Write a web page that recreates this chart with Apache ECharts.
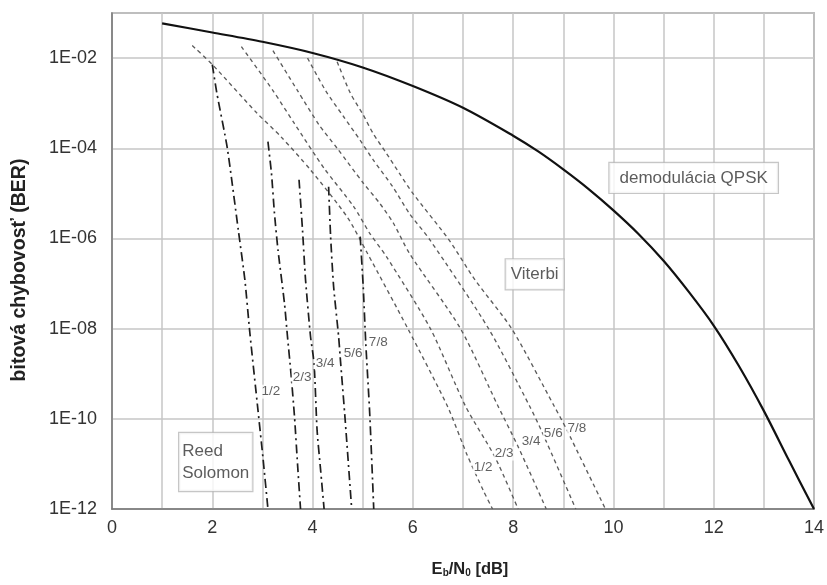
<!DOCTYPE html>
<html>
<head>
<meta charset="utf-8">
<script src="https://cdn.jsdelivr.net/npm/echarts@6/dist/echarts.min.js"></script>
<style>
  html, body { margin: 0; padding: 0; background: #fff; }
  #chart { width: 827px; height: 585px; }
</style>
</head>
<body>
<div id="chart"></div>
<script>
// Eb/N0 [dB] values and bit error rates for each curve

// uncoded QPSK demodulation
const qpskX   = [1, 2, 3, 4, 5, 6, 7, 8, 8.5, 9, 9.5, 10, 10.5, 11, 11.5, 12, 12.5, 13, 13.5, 14];
const qpskBer = [5.9e-2, 3.7e-2, 2.3e-2, 1.3e-2, 6.2e-3, 2.4e-3, 7.9e-4, 1.9e-4, 8.5e-5, 3.4e-5, 1.26e-5, 4.2e-6, 1.26e-6, 3.2e-7, 6.6e-8, 1.17e-8, 1.5e-9, 1.5e-10, 1.2e-11, 1e-12];

// Viterbi (convolutional) decoding, code rates 1/2 ... 7/8
const vit12X   = [1.6, 2.0, 2.88, 3.37, 3.96, 4.69, 5.08, 5.9, 6.69, 7.08, 7.41, 7.59];
const vit12Ber = [1.9e-2, 7.2e-3, 6.2e-4, 1.8e-4, 3.3e-5, 3.0e-6, 5e-7, 1e-8, 1.9e-10, 1.6e-11, 2.5e-12, 1e-12];
const vit23X   = [2.58, 3.21, 3.64, 4.23, 4.82, 5.14, 5.47, 6.35, 7.05, 7.64, 8.10];
const vit23Ber = [1.8e-2, 1.9e-3, 3.5e-4, 3.6e-5, 5.1e-6, 1.3e-6, 4e-7, 1e-8, 1.9e-10, 1.4e-11, 1e-12];
const vit34X   = [3.21, 3.70, 4.13, 4.49, 5.01, 5.34, 5.61, 5.93, 6.95, 7.70, 8.10, 8.66];
const vit34Ber = [1.46e-2, 1.9e-3, 3.3e-4, 1e-4, 1.7e-5, 6e-6, 2.2e-6, 4.7e-7, 1e-8, 1.9e-10, 2.4e-11, 1e-12];
const vit56X   = [3.90, 4.26, 4.62, 4.95, 5.21, 5.60, 5.93, 6.34, 7.51, 8.33, 8.56, 9.25];
const vit56Ber = [1e-2, 1.9e-3, 5e-4, 1.5e-4, 5.5e-5, 1.4e-5, 3.6e-6, 9.3e-7, 1e-8, 1.9e-10, 5.6e-11, 1e-12];
const vit78X   = [4.49, 4.75, 5.01, 5.21, 5.47, 5.73, 6.0, 6.72, 7.24, 7.97, 8.82, 9.05, 9.84];
const vit78Ber = [8.3e-3, 1.7e-3, 5.5e-4, 2.1e-4, 7.8e-5, 2.8e-5, 1e-5, 9.3e-7, 1.2e-7, 1e-8, 1.9e-10, 6.3e-11, 1e-12];

// concatenated Reed-Solomon + Viterbi decoding
const rs12X   = [2.0, 2.09, 2.30, 2.52, 2.65, 2.75, 2.91, 3.01, 3.11];
const rs12Ber = [7.2e-3, 1.7e-3, 1e-4, 1.5e-6, 1.2e-7, 7.9e-9, 1.6e-10, 1.4e-11, 1e-12];
const rs23X   = [3.11, 3.18, 3.24, 3.31, 3.44, 3.50, 3.57, 3.64, 3.70, 3.76];
const rs23Ber = [1.4e-4, 2.8e-5, 3.6e-6, 5.6e-7, 3.6e-8, 6.6e-9, 1e-9, 1.1e-10, 1e-11, 1e-12];
const rs34X   = [3.73, 3.80, 3.86, 3.96, 4.03, 4.09, 4.16, 4.23];
const rs34Ber = [2e-5, 1.5e-6, 1.2e-7, 6.6e-9, 1.7e-9, 5.6e-11, 7.4e-12, 1e-12];
const rs56X   = [4.32, 4.36, 4.42, 4.52, 4.55, 4.65, 4.78];
const rs56Ber = [1.4e-5, 1.1e-6, 8.5e-8, 6.6e-9, 2.4e-9, 9.5e-11, 1e-12];
const rs78X   = [4.95, 5.01, 5.06, 5.14, 5.22];
const rs78Ber = [1.1e-6, 8.5e-8, 5e-9, 1.3e-10, 1e-12];

// code-rate captions next to the curves
const rateNames  = ['1/2', '2/3', '3/4', '5/6', '7/8'];
const rsLabelX   = [3.17, 3.79, 4.25, 4.81, 5.31];
const rsLabelBer = [4.0e-10, 8.5e-10, 1.7e-9, 2.9e-9, 5.1e-9];
const vitLabelX   = [7.40, 7.82, 8.36, 8.80, 9.27];
const vitLabelBer = [8.5e-12, 1.7e-11, 3.1e-11, 4.9e-11, 6.3e-11];

// boxed captions
const noteText = ['demodulácia QPSK', 'Viterbi', 'Reed\nSolomon'];
const noteX    = [11.6, 8.43, 1.34];
const noteBer  = [2.2e-5, 1.6e-7, 1.1e-11];

const pairs = (xs, ys) => xs.map((x, i) => [x, ys[i]]);
const FONT = '"Liberation Sans", Arial, sans-serif';

const vitStyle = { color: '#5c5c5c', width: 1.35, type: [4, 3.5] };
const rsStyle  = { color: '#1e1e1e', width: 1.7, type: [9, 4, 2, 4] };

// per-caption box layout
const noteLabelStyle = [
  { align: 'center', padding: [5, 10, 3, 10] },
  { align: 'center', padding: [5, 5, 3, 5] },
  { align: 'left', padding: [8, 3, 6, 3] }
];

function curve(name, xs, ys, style, smooth) {
  return {
    name: name, type: 'line', data: pairs(xs, ys),
    showSymbol: false, symbol: 'none', smooth: smooth,
    lineStyle: style, z: 3, animation: false
  };
}

const series = [
  curve('QPSK', qpskX, qpskBer, { color: '#111', width: 2.2, type: 'solid' }, 0.3),
  curve('Viterbi 1/2', vit12X, vit12Ber, vitStyle, 0.25),
  curve('Viterbi 2/3', vit23X, vit23Ber, vitStyle, 0.25),
  curve('Viterbi 3/4', vit34X, vit34Ber, vitStyle, 0.25),
  curve('Viterbi 5/6', vit56X, vit56Ber, vitStyle, 0.25),
  curve('Viterbi 7/8', vit78X, vit78Ber, vitStyle, 0.25),
  curve('RS 1/2', rs12X, rs12Ber, rsStyle, 0.2),
  curve('RS 2/3', rs23X, rs23Ber, rsStyle, 0.2),
  curve('RS 3/4', rs34X, rs34Ber, rsStyle, 0.2),
  curve('RS 5/6', rs56X, rs56Ber, rsStyle, 0.2),
  curve('RS 7/8', rs78X, rs78Ber, rsStyle, 0.2),
  {
    name: 'rate labels', type: 'scatter', symbolSize: 0, z: 5, animation: false,
    data: rateNames.map((t, i) => ({ value: [rsLabelX[i], rsLabelBer[i]], name: t }))
      .concat(rateNames.map((t, i) => ({ value: [vitLabelX[i], vitLabelBer[i]], name: t }))),
    label: {
      show: true, position: 'inside', formatter: p => p.name,
      fontFamily: FONT, fontSize: 13.5, color: '#3a3a3a',
      backgroundColor: '#fff', padding: [0, 1]
    }
  },
  {
    name: 'notes', type: 'scatter', symbolSize: 0, z: 6, animation: false,
    data: noteText.map((t, i) => ({
      value: [noteX[i], noteBer[i]], name: t,
      label: noteLabelStyle[i]
    })),
    label: {
      show: true, position: 'inside', formatter: p => p.name,
      fontFamily: FONT, fontSize: 17, color: '#333',
      lineHeight: 22,
      backgroundColor: '#fff', borderColor: '#b8b8b8', borderWidth: 1.2
    }
  }
];

const chart = echarts.init(document.getElementById('chart'), null, { renderer: 'canvas' });
chart.setOption({
  animation: false,
  backgroundColor: '#fff',
  grid: { left: 112, right: 4, top: 13, bottom: 76, show: true, borderColor: '#8a8a8a', borderWidth: 1.5, backgroundColor: 'transparent' },
  xAxis: {
    type: 'value', min: 0, max: 14, interval: 1,
    name: '{t|E}{s|b}{t|/N}{s|0}{t| [dB]}',
    nameLocation: 'middle', nameGap: 52,
    nameTextStyle: {
      padding: [0, 0, 0, 14],
      rich: {
        t: { fontFamily: FONT, fontSize: 16.5, fontWeight: 'bold', color: '#222' },
        s: { fontFamily: FONT, fontSize: 10, fontWeight: 'bold', color: '#222', verticalAlign: 'bottom', padding: [6, 0, 0, 0] }
      }
    },
    axisLine: { show: true, lineStyle: { color: '#777', width: 1.5 } },
    axisTick: { show: false },
    axisLabel: {
      fontFamily: FONT, fontSize: 18, color: '#333', margin: 10,
      formatter: v => (v % 2 === 0 ? String(v) : '')
    },
    splitLine: { show: true, lineStyle: { color: '#c6c6c6', width: 1.5 } }
  },
  yAxis: {
    type: 'log', logBase: 10, min: 1e-12, max: 1e-1, interval: 2,
    name: 'bitová chybovosť (BER)',
    nameLocation: 'middle', nameGap: 82, nameRotate: 90,
    nameTextStyle: { fontFamily: FONT, fontSize: 19.5, fontWeight: 'bold', color: '#222', padding: [0, 18, 0, 0] },
    axisLine: { show: true, lineStyle: { color: '#777', width: 1.5 } },
    axisTick: { show: false },
    axisLabel: {
      fontFamily: FONT, fontSize: 18, color: '#333', margin: 15,
      formatter: v => {
        const e = Math.round(Math.log10(v));
        if (e >= -1) return '';
        return '1E-' + String(-e).padStart(2, '0');
      }
    },
    splitLine: { show: true, lineStyle: { color: '#c6c6c6', width: 1.5 } }
  },
  series: series
});
</script>
</body>
</html>
